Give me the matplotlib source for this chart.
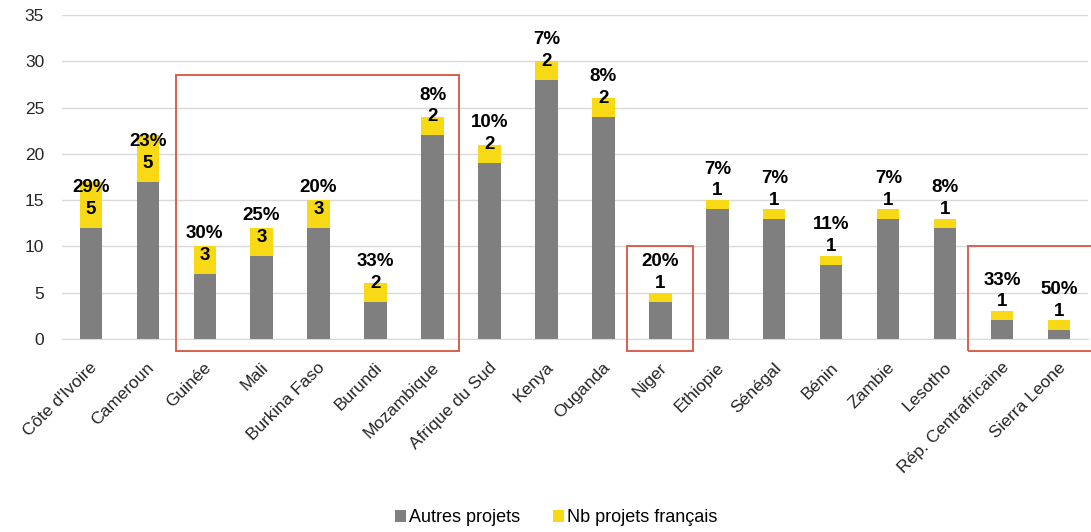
import matplotlib.pyplot as plt
import numpy as np
from matplotlib.patches import Rectangle
from matplotlib.transforms import ScaledTranslation

plt.rcParams['font.family'] = ['Liberation Sans', 'DejaVu Sans']

# Data
countries = ["Côte d'Ivoire", "Cameroun", "Guinée", "Mali", "Burkina Faso", "Burundi",
             "Mozambique", "Afrique du Sud", "Kenya", "Ouganda", "Niger", "Ethiopie",
             "Sénégal", "Bénin", "Zambie", "Lesotho", "Rép. Centrafricaine", "Sierra Leone"]
autres = [12, 17, 7, 9, 12, 4, 22, 19, 28, 24, 4, 14, 13, 8, 13, 12, 2, 1]
francais = [5, 5, 3, 3, 3, 2, 2, 2, 2, 2, 1, 1, 1, 1, 1, 1, 1, 1]
pct_labels = ["29%", "23%", "30%", "25%", "20%", "33%", "8%", "10%", "7%", "8%",
              "20%", "7%", "7%", "11%", "7%", "8%", "33%", "50%"]

grey = '#7f7f7f'
yellow = '#f7d916'
red = '#d9604f'

fig = plt.figure(figsize=(10.91, 5.32), dpi=100)
ax = fig.add_axes([0.057, 0.3628, 0.940, 0.609])

x = np.arange(len(countries))
ax.bar(x, autres, width=0.39, color=grey, label='Autres projets', zorder=2)
ax.bar(x, francais, width=0.39, bottom=autres, color=yellow, label='Nb projets français', zorder=2)

# labels: count and share
for i in range(len(countries)):
    ax.text(x[i], autres[i] + 2, str(francais[i]), ha='center', va='center',
            fontsize=13.5, fontweight='bold', color='black', zorder=4)
    ax.text(x[i], autres[i] + 4.35, pct_labels[i], ha='center', va='center',
            fontsize=13.5, fontweight='bold', color='black', zorder=4)

ax.set_xlim(-0.5, len(countries) - 0.5)
ax.set_ylim(0, 35)
ax.set_yticks(range(0, 36, 5))
ax.grid(axis='y', color='#d9d9d9', linewidth=1, zorder=0)
ax.set_axisbelow(True)
for s in ['top', 'right', 'left']:
    ax.spines[s].set_visible(False)
ax.spines['bottom'].set_color('#d9d9d9')
ax.tick_params(axis='both', length=0, labelsize=12.5, colors='#262626')
ax.tick_params(axis='y', pad=13)
ax.tick_params(axis='x', pad=15)
ax.set_xticks(x)
ax.set_xticklabels(countries, rotation=45, ha='right', va='top', rotation_mode='anchor')
shift = ScaledTranslation(-1 / 100, 0, fig.dpi_scale_trans)
for lbl in ax.get_xticklabels():
    lbl.set_transform(lbl.get_transform() + shift)

# highlight boxes
boxes = [(1.5, 6.47, 28.5), (9.42, 10.58, 10.0), (15.4, 17.7, 10.0)]
for x0, x1, top in boxes:
    ax.add_patch(Rectangle((x0, -1.3), x1 - x0, top + 1.3, fill=False,
                           edgecolor=red, linewidth=1.4, clip_on=False, zorder=5))

fig.legend(loc='center', bbox_to_anchor=(0.51, 0.027), ncol=2, frameon=False,
           fontsize=13, handlelength=0.6, handleheight=0.6, handletextpad=0.2,
           columnspacing=1.8)

fig.savefig('out.png', dpi=100)
